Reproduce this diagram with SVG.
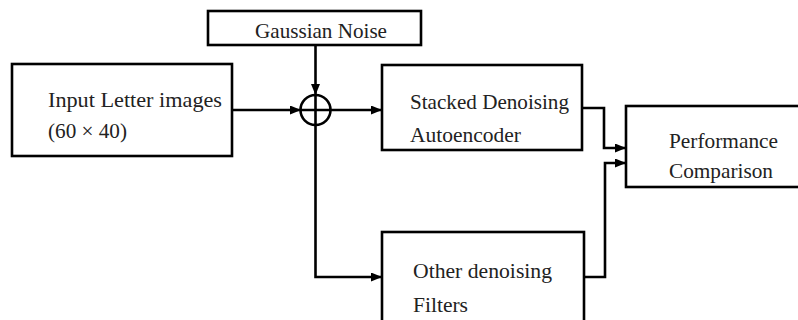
<svg xmlns="http://www.w3.org/2000/svg" width="798" height="320" viewBox="0 0 798 320">
<defs>
<style>
.box{fill:#fff;stroke:#000;stroke-width:2.6}
.lbl{font-family:"Liberation Serif","DejaVu Serif",serif;font-size:21.5px;fill:#222}
.con{fill:none;stroke:#000;stroke-width:2.6;stroke-linejoin:miter}
</style>
<marker id="ah" markerWidth="11" markerHeight="9" refX="10" refY="4.5" orient="auto" markerUnits="userSpaceOnUse">
<path d="M0,0 L11,4.5 L0,9 Z" fill="#000"/>
</marker>
</defs>
<rect width="798" height="320" fill="#fff"/>
<g id="connectors">
<path class="con" d="M315.5,45 V94" marker-end="url(#ah)"/>
<path class="con" d="M232,110 H300" marker-end="url(#ah)"/>
<path class="con" d="M331,110 H381" marker-end="url(#ah)"/>
<path class="con" d="M315.5,125 V277 H381" marker-end="url(#ah)"/>
<path class="con" d="M582,108 H604 V148 H625" marker-end="url(#ah)"/>
<path class="con" d="M584,277 H605 V163 H625" marker-end="url(#ah)"/>
</g>
<g id="noise">
<rect class="box" x="208" y="11" width="213" height="34"/>
<text class="lbl" x="255" y="38" textLength="132" lengthAdjust="spacingAndGlyphs">Gaussian Noise</text>
</g>
<g id="input">
<rect class="box" x="12" y="64" width="220" height="92"/>
<text class="lbl" x="48" y="107" textLength="174" lengthAdjust="spacingAndGlyphs">Input Letter images</text>
<text class="lbl" x="48" y="138" textLength="79" lengthAdjust="spacingAndGlyphs">(60 × 40)</text>
</g>
<g id="sum">
<circle cx="315.5" cy="110" r="15" fill="#fff" stroke="#000" stroke-width="2.6"/>
<path d="M315.5,95 V125 M300.5,110 H330.5" stroke="#000" stroke-width="2.6"/>
</g>
<g id="sda">
<rect class="box" x="382" y="65" width="200" height="85"/>
<text class="lbl" x="410" y="109" textLength="159" lengthAdjust="spacingAndGlyphs">Stacked Denoising</text>
<text class="lbl" x="410" y="142" textLength="111" lengthAdjust="spacingAndGlyphs">Autoencoder</text>
</g>
<g id="other">
<rect class="box" x="382" y="232" width="202" height="100"/>
<text class="lbl" x="413" y="278" textLength="139" lengthAdjust="spacingAndGlyphs">Other denoising</text>
<text class="lbl" x="413" y="312" textLength="55" lengthAdjust="spacingAndGlyphs">Filters</text>
</g>
<g id="perf">
<rect class="box" x="626" y="106" width="190" height="81"/>
<text class="lbl" x="669" y="148" textLength="109" lengthAdjust="spacingAndGlyphs">Performance</text>
<text class="lbl" x="669" y="178" textLength="104" lengthAdjust="spacingAndGlyphs">Comparison</text>
</g>
</svg>
